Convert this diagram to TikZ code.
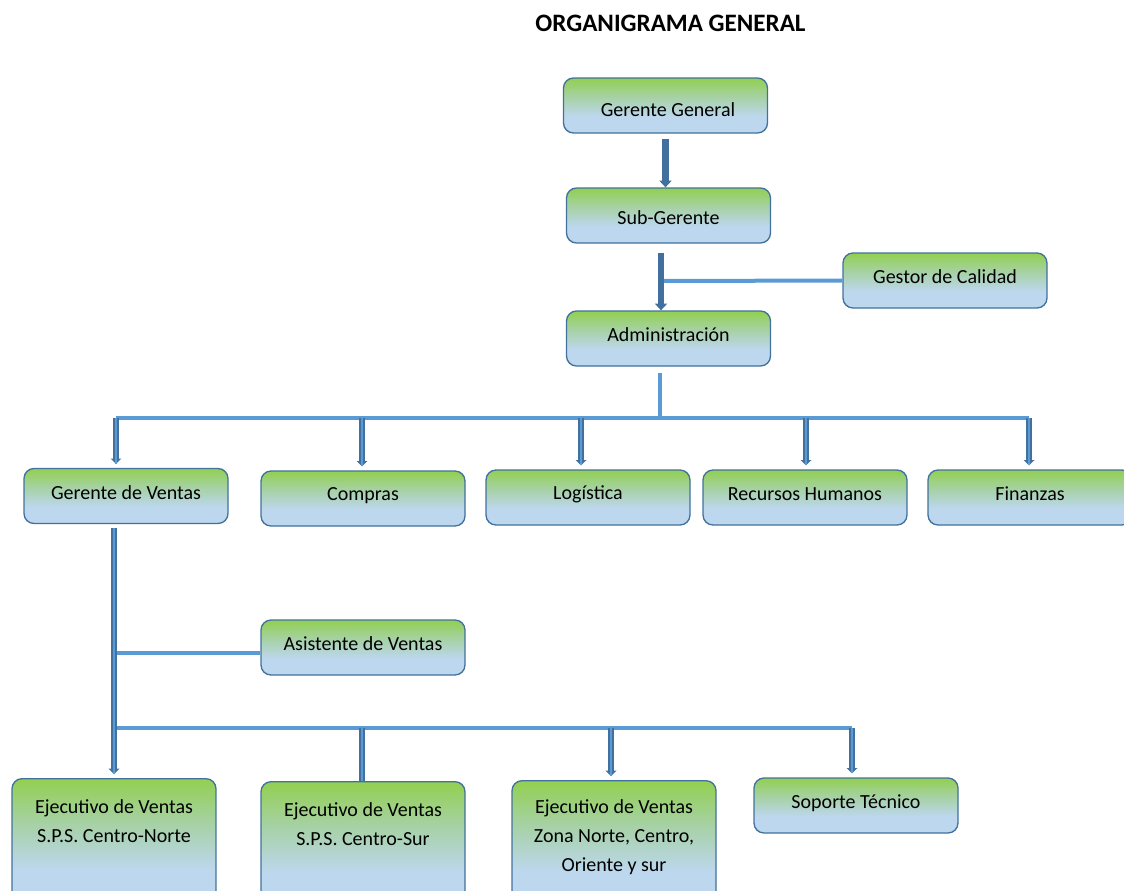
\documentclass[tikz,border=0pt]{standalone}
\usepackage{fontspec}
\setmainfont{Carlito}
\usetikzlibrary{arrows.meta}

\definecolor{boxgreen}{RGB}{146,208,80}
\definecolor{boxmid}{RGB}{166,209,164}
\definecolor{boxblue}{RGB}{189,215,238}
\definecolor{boxedge}{RGB}{65,113,156}
\definecolor{linkblue}{RGB}{91,155,213}
\definecolor{arrowblue}{RGB}{66,112,158}

% green at the top, light blue over the lower part of each box
\pgfdeclareverticalshading{orgshade}{100bp}{%
  color(0bp)=(boxblue); color(25bp)=(boxblue); color(40bp)=(boxblue);
  color(58bp)=(boxmid); color(75bp)=(boxgreen); color(100bp)=(boxgreen)}

\tikzset{
  orgbox/.style={draw=boxedge, line width=1pt, rounded corners=7.5pt,
    shading=orgshade,
    minimum width=153pt, minimum height=41.25pt, inner sep=0pt,
    font=\fontsize{15}{21.75}\selectfont, align=center},
  boxtext/.style={font=\fontsize{15}{21.75}\selectfont, align=center, inner sep=0pt},
  link/.style={draw=linkblue, line width=3pt},
  mainarrow/.style={draw=arrowblue, line width=5pt,
    -{Triangle[length=5pt,width=9pt]}},
  dropline/.style={draw=linkblue, line width=2pt, shorten >=3pt,
    preaction={draw=boxedge, line width=4.2pt, -{Triangle[length=4pt,width=8pt]}}},
  dropflat/.style={draw=linkblue, line width=2pt,
    preaction={draw=boxedge, line width=4.2pt}},
}

\begin{document}
\begin{tikzpicture}[x=0.75pt,y=-0.75pt]
\useasboundingbox (0,0) rectangle (1124,890);
\begin{scope}
\clip (0,0) rectangle (1124,890);

% title
\node[font=\fontsize{18.8}{22}\selectfont\bfseries] (title) at (670.5,23) {ORGANIGRAMA GENERAL};

% upper chain
\node[orgbox] (gg)  at (665.5,105.5) {};
\node[orgbox] (sub) at (668.5,215.5) {};
\node[orgbox] (cal) at (945,280.5)   {};
\node[orgbox] (adm) at (668.5,338.5) {};
\node[boxtext] (ggt)  at (668,110) {Gerente General};
\node[boxtext] (subt) at (668.5,218) {Sub-Gerente};
\node[boxtext] (calt) at (945,277) {Gestor de Calidad};
\node[boxtext] (admt) at (668.5,335) {Administración};

% departments
\node[orgbox] (gv)  at (126,496)    {};
\node[orgbox] (com) at (363,498.5)  {};
\node[orgbox] (log) at (588,497.5)  {};
\node[orgbox] (rh)  at (805,497.5)  {};
\node[orgbox] (fin) at (1030,497.5) {};
\node[boxtext] (gvt)  at (126,493)  {Gerente de Ventas};
\node[boxtext] (comt) at (363,496)  {Compras};
\node[boxtext] (logt) at (588,494)  {Logística};
\node[boxtext] (rht)  at (805,494)  {Recursos Humanos};
\node[boxtext] (fint) at (1030,494) {Finanzas};

% sales area
\node[orgbox] (asis) at (363,647.5) {};
\node[boxtext] (asist) at (363,644) {Asistente de Ventas};
\node[orgbox, minimum height=97.5pt, anchor=north] (e1) at (114,778) {};
\node[orgbox, minimum height=97.5pt, anchor=north] (e2) at (363,781) {};
\node[orgbox, minimum height=97.5pt, anchor=north] (e3) at (614,780) {};
\node[boxtext] (e1t) at (114,821) {Ejecutivo de Ventas\\S.P.S. Centro-Norte};
\node[boxtext] (e2t) at (363,824) {Ejecutivo de Ventas\\S.P.S. Centro-Sur};
\node[boxtext] (e3t) at (614,837) {Ejecutivo de Ventas\\Zona Norte, Centro,\\Oriente y sur};
\node[orgbox] (sop) at (856,805.5) {};
\node[boxtext] (sopt) at (856,803) {Soporte Técnico};

% junction points
\coordinate (j1) at (661,281);
\coordinate (b0) at (660,418);
\coordinate (b1) at (116,418);
\coordinate (b2) at (362,418);
\coordinate (b3) at (581,418);
\coordinate (b4) at (806,418);
\coordinate (b5) at (1029,418);
\coordinate (tr) at (114,653);
\coordinate (c1) at (114,728);
\coordinate (c2) at (362,728);
\coordinate (c3) at (611,728);
\coordinate (c4) at (852,728);

% connectors of the upper chain
\draw[mainarrow, shorten <=3.75pt] (gg.south) -- (gg.south |- sub.north);
\draw[link] (cal.west) -- (j1);
\draw[mainarrow, shorten <=6.75pt] (sub.south -| j1) -- (adm.north -| j1);

% department bus
\draw[link, shorten <=4.5pt] (adm.south -| b0) -- (b0);
\draw[link] (b1) -- (b5);
\draw[dropline] (b1) -- (b1 |- gv.north);
\draw[dropline] (b2) -- (b2 |- com.north);
\draw[dropline] (b3) -- (b3 |- log.north);
\draw[dropline] (b4) -- (b4 |- rh.north);
\draw[dropline] (b5) -- (b5 |- fin.north);

% sales trunk
\draw[link] (tr) -- (tr -| asis.west);
\draw[link] (c1) -- (c4);
\draw[dropline, shorten <=3pt] (gv.south -| tr) -- (e1.north -| tr);
\draw[dropflat] (c2) -- (c2 |- e2.north);
\draw[dropline] (c3) -- (c3 |- e3.north);
\draw[dropline] (c4) -- (c4 |- sop.north);
\end{scope}
\end{tikzpicture}
\end{document}
